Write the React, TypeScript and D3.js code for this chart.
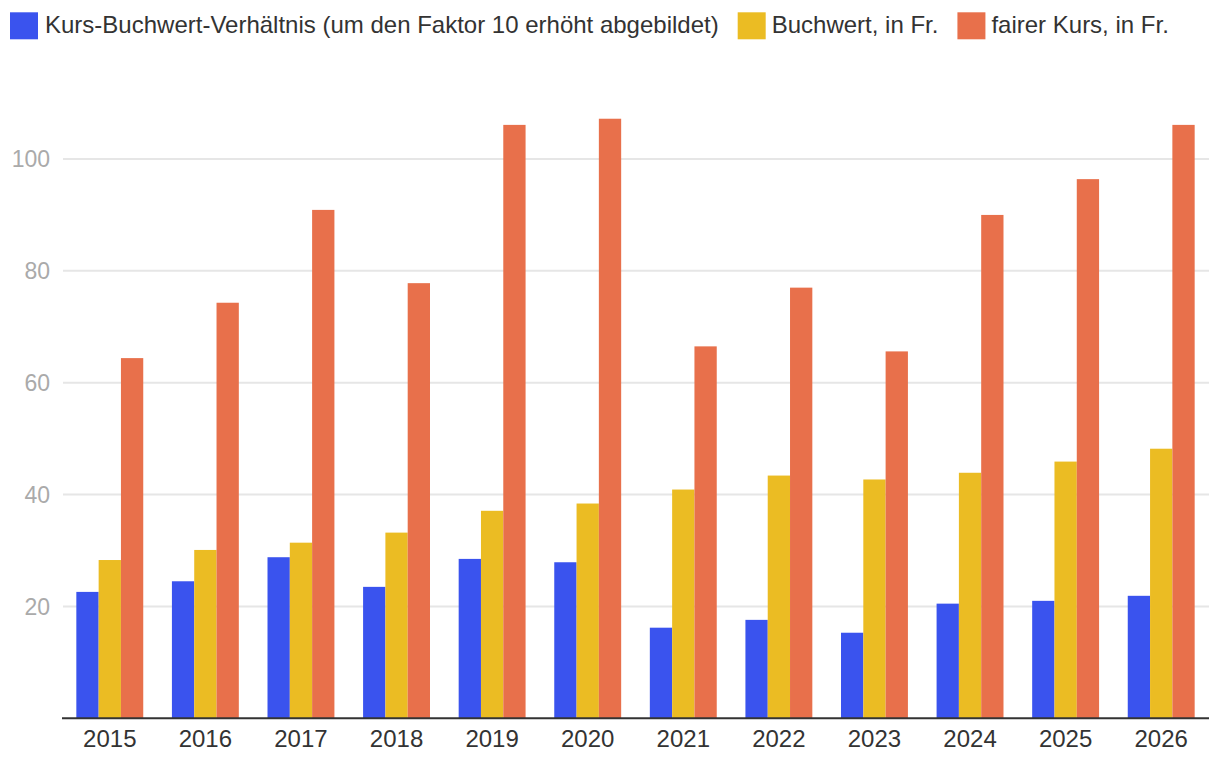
import React, { useEffect, useRef } from "react";
import * as d3 from "d3";

const years = ["2015", "2016", "2017", "2018", "2019", "2020", "2021", "2022", "2023", "2024", "2025", "2026"];
const kbv = [22.6, 24.5, 28.8, 23.5, 28.5, 27.9, 16.2, 17.6, 15.3, 20.5, 21.0, 21.9];
const buchwert = [28.3, 30.1, 31.4, 33.2, 37.1, 38.4, 40.9, 43.4, 42.7, 43.9, 45.9, 48.2];
const fairerKurs = [64.4, 74.3, 90.9, 77.8, 106.1, 107.2, 66.5, 77.0, 65.6, 90.0, 96.4, 106.1];
const yTicks = [20, 40, 60, 80, 100];
const seriesNames = [
  "Kurs-Buchwert-Verhältnis (um den Faktor 10 erhöht abgebildet)",
  "Buchwert, in Fr.",
  "fairer Kurs, in Fr.",
];
const colors = ["#3A53EE", "#EBBC23", "#E8704B"];

const W = 1220;
const H = 770;
const FONT = "'Liberation Sans', Arial, Helvetica, sans-serif";

export default function App() {
  const ref = useRef<SVGSVGElement>(null);

  useEffect(() => {
    const svg = d3.select(ref.current);
    svg.selectAll("*").remove();

    const x0 = d3.scaleBand<string>().domain(years).range([62, 1209]).paddingInner(0.3).paddingOuter(0.15);
    const x1 = d3.scaleBand<number>().domain([0, 1, 2]).range([0, x0.bandwidth()]);
    const y = d3.scaleLinear().domain([0, 100]).range([718.3, 159]);

    // gridlines
    svg
      .append("g")
      .selectAll("line")
      .data(yTicks)
      .join("line")
      .attr("x1", 63)
      .attr("x2", 1209)
      .attr("y1", (d) => y(d))
      .attr("y2", (d) => y(d))
      .attr("stroke", "#e6e6e6")
      .attr("stroke-width", 2);

    // y labels
    svg
      .append("g")
      .selectAll("text")
      .data(yTicks)
      .join("text")
      .attr("x", 50)
      .attr("y", (d) => y(d))
      .attr("dy", "0.36em")
      .attr("text-anchor", "end")
      .attr("font-family", FONT)
      .attr("font-size", 23)
      .attr("fill", "#aaaaaa")
      .text((d) => String(d));

    const series = [kbv, buchwert, fairerKurs];
    const g = svg.append("g");
    years.forEach((yr, i) => {
      series.forEach((s, k) => {
        g.append("rect")
          .attr("x", (x0(yr) as number) + (x1(k) as number))
          .attr("width", x1.bandwidth())
          .attr("y", y(s[i]))
          .attr("height", y(0) - y(s[i]))
          .attr("fill", colors[k]);
      });
    });

    // axis line
    svg
      .append("line")
      .attr("x1", 62)
      .attr("x2", 1209)
      .attr("y1", y(0))
      .attr("y2", y(0))
      .attr("stroke", "#333333")
      .attr("stroke-width", 2);

    // x labels
    svg
      .append("g")
      .selectAll("text")
      .data(years)
      .join("text")
      .attr("x", (d) => (x0(d) as number) + x0.bandwidth() / 2)
      .attr("y", 747)
      .attr("text-anchor", "middle")
      .attr("font-family", FONT)
      .attr("font-size", 24)
      .attr("fill", "#333333")
      .text((d) => d);

    // legend
    const lg = svg.append("g");
    let cx = 10;
    seriesNames.forEach((name, k) => {
      const off = k === 0 ? 35 : 34;
      lg.append("rect").attr("x", cx).attr("y", 12.3).attr("width", 28).attr("height", 27).attr("fill", colors[k]);
      const t = lg
        .append("text")
        .attr("x", cx + off)
        .attr("y", 33)
        .attr("font-family", FONT)
        .attr("font-size", 24)
        .attr("fill", "#333333")
        .text(name);
      const w = (t.node() as SVGTextElement).getComputedTextLength();
      cx = cx + off + w + 19;
    });
  }, []);

  return (
    <svg
      ref={ref}
      width={W}
      height={H}
      style={{ position: "absolute", left: 0, top: 0, background: "#ffffff" }}
    />
  );
}
